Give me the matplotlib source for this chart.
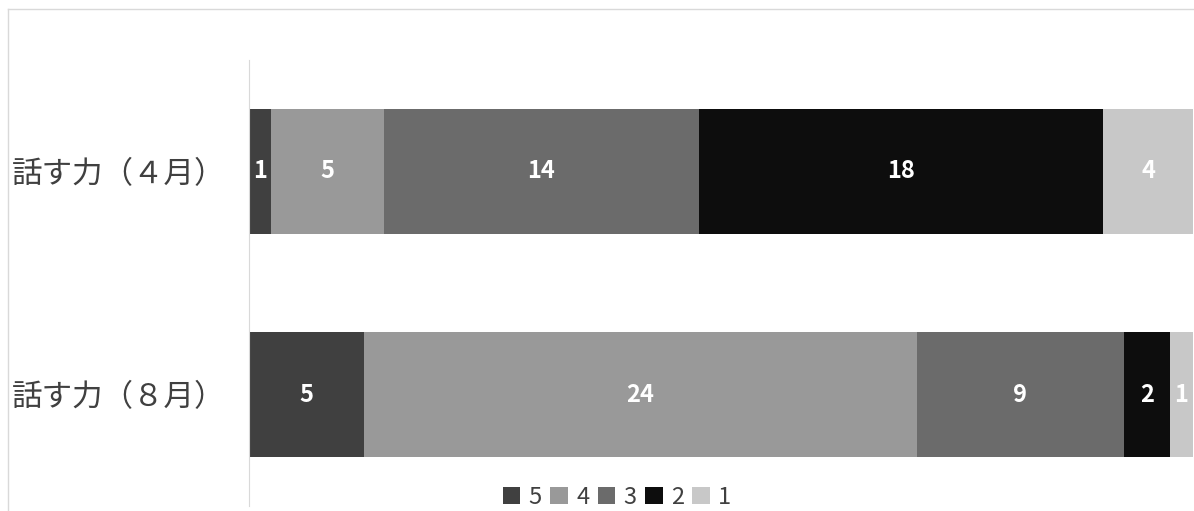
import matplotlib.pyplot as plt
from matplotlib.lines import Line2D
import numpy as np

plt.rcParams['font.family'] = ['Noto Sans CJK JP', 'DejaVu Sans']

categories = ['話す力（４月）', '話す力（８月）']
series_names = ['5', '4', '3', '2', '1']
counts = {
    '5': [1, 5],
    '4': [5, 24],
    '3': [14, 9],
    '2': [18, 2],
    '1': [4, 1],
}
colors = ['#404040', '#999999', '#6b6b6b', '#0d0d0d', '#c8c8c8']

fig = plt.figure(figsize=(11.94, 5.11), dpi=100)
ax = fig.add_axes([249 / 1194, 5 / 511, 944 / 1194, 446 / 511])

totals = np.sum([counts[s] for s in series_names], axis=0)
y = np.arange(len(categories))
left = np.zeros(len(categories))
for name, col in zip(series_names, colors):
    vals = np.array(counts[name], dtype=float)
    frac = vals / totals
    bars = ax.barh(y, frac, left=left, height=0.56, color=col, label=name)
    for b, v in zip(bars, vals):
        ax.text(b.get_x() + b.get_width() / 2, b.get_y() + b.get_height() / 2,
                str(int(v)), ha='center', va='center', color='white',
                fontsize=17, fontweight='bold')
    left += frac

ax.set_xlim(0, 1)
ax.set_ylim(1.5, -0.5)
ax.set_yticks(y)
ax.set_yticklabels(categories, fontsize=22, color='#404040')
ax.tick_params(axis='y', length=0, pad=17)
ax.set_xticks([])
for s in ['top', 'right', 'bottom']:
    ax.spines[s].set_visible(False)
ax.spines['left'].set_color('#d9d9d9')

fig.legend(loc='center', bbox_to_anchor=(617 / 1194, 1 - 497 / 511), ncol=5,
           frameon=False, fontsize=17, handlelength=0.75, handleheight=0.75,
           handletextpad=0.35, columnspacing=0.35, labelcolor='#404040')

fig.add_artist(Line2D([8 / 1194, 1], [1 - 9 / 511, 1 - 9 / 511],
                      transform=fig.transFigure, color='#d9d9d9', lw=1))
fig.add_artist(Line2D([8 / 1194, 8 / 1194], [0, 1 - 9 / 511],
                      transform=fig.transFigure, color='#d9d9d9', lw=1))

fig.savefig('out.png', dpi=100)
